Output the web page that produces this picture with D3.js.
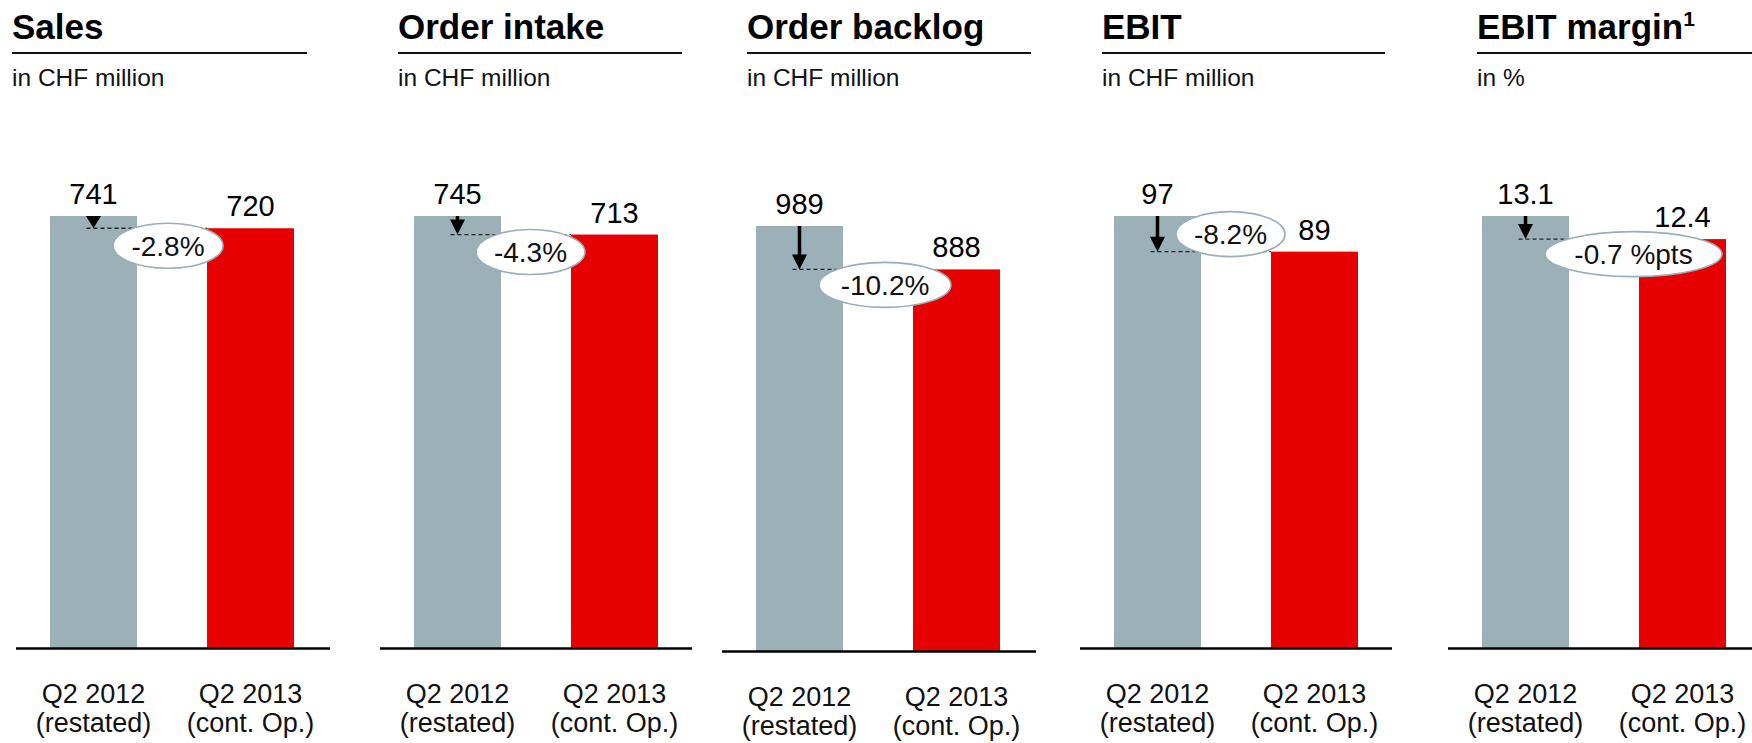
<!DOCTYPE html>
<html>
<head>
<meta charset="utf-8">
<script src="https://cdn.jsdelivr.net/npm/d3@7"></script>
<style>
  html, body { margin: 0; padding: 0; background: #fff; }
  svg { display: block; font-family: "Liberation Sans", Arial, Helvetica, sans-serif; }
</style>
</head>
<body>
<svg id="chart" width="1752" height="743"></svg>
<script>
// Data
const panelTitles = ["Sales", "Order intake", "Order backlog", "EBIT", "EBIT margin"];
const panelUnits = ["in CHF million", "in CHF million", "in CHF million", "in CHF million", "in %"];
const categories = ["Q2 2012", "Q2 2013"];
const categorySubs = ["(restated)", "(cont. Op.)"];
const values2012 = [741, 745, 989, 97, 13.1];
const values2013 = [720, 713, 888, 89, 12.4];
const valueFormats = ["d", "d", "d", "d", ".1f"];
const changeLabels = ["-2.8%", "-4.3%", "-10.2%", "-8.2%", "-0.7 %pts"];

// Layout (pixels)
const barLeft = [50, 414, 756, 1114, 1482];
const baseY = [648, 648, 651, 648, 648];
const plotH = [432, 432, 425, 432, 432];
const titleX = [12, 398, 747, 1102, 1477];
const ruleEnd = [307, 682, 1031, 1385, 1752];
const axisX = [[16, 330], [380, 692], [722, 1036], [1080, 1392], [1448, 1752]];
const bubbleDx = [118, 116.5, 129, 116.5, 151.5];
const bubbleDy = [17.5, 17.5, 15.5, -17.5, 15];
const bubbleRx = [55, 54.5, 66, 54.5, 88.5];

const gray = "#9cb0b8", red = "#e60000";

const svg = d3.select("#chart");

panelTitles.forEach((title, i) => {
    const g = svg.append("g");

    // title
    const t = g.append("text")
        .attr("x", titleX[i]).attr("y", 39)
        .attr("font-size", 35).attr("font-weight", "bold")
        .attr("fill", "#000")
        .text(title);
    if (i === 4) {
        t.append("tspan").attr("font-size", 21).attr("dy", -13).text("1");
    }
    g.append("line")
        .attr("x1", titleX[i]).attr("x2", ruleEnd[i])
        .attr("y1", 53).attr("y2", 53)
        .attr("stroke", "#111").attr("stroke-width", 2.2);
    g.append("text")
        .attr("x", titleX[i]).attr("y", 86)
        .attr("font-size", 24.5).attr("fill", "#111")
        .text(panelUnits[i]);

    // scales
    const x = d3.scaleBand()
        .domain(categories)
        .range([barLeft[i], barLeft[i] + 244])
        .paddingInner(0.446);
    const y = d3.scaleLinear()
        .domain([0, values2012[i]])
        .range([baseY[i], baseY[i] - plotH[i]]);

    const vals = [values2012[i], values2013[i]];
    const fmt = d3.format(valueFormats[i]);

    // bars
    g.selectAll("rect.bar")
        .data(vals)
        .join("rect")
        .attr("class", "bar")
        .attr("x", (d, j) => x(categories[j]))
        .attr("width", x.bandwidth())
        .attr("y", d => y(d))
        .attr("height", d => baseY[i] - y(d))
        .attr("fill", (d, j) => j === 0 ? gray : red);

    // axis baseline
    g.append("line")
        .attr("x1", axisX[i][0]).attr("x2", axisX[i][1])
        .attr("y1", baseY[i] + 0.5).attr("y2", baseY[i] + 0.5)
        .attr("stroke", "#000").attr("stroke-width", 2.5);

    // value labels
    g.selectAll("text.val")
        .data(vals)
        .join("text")
        .attr("class", "val")
        .attr("x", (d, j) => x(categories[j]) + x.bandwidth() / 2)
        .attr("y", d => y(d) - 12)
        .attr("text-anchor", "middle")
        .attr("font-size", 29)
        .attr("fill", "#000")
        .text(d => fmt(d));

    // category labels
    categories.forEach((c, j) => {
        const cx = x(c) + x.bandwidth() / 2;
        const lab = g.append("text")
            .attr("text-anchor", "middle")
            .attr("font-size", 27)
            .attr("fill", "#111");
        lab.append("tspan").attr("x", cx).attr("y", baseY[i] + 55).text(c);
        lab.append("tspan").attr("x", cx).attr("y", baseY[i] + 84).text(categorySubs[j]);
    });

    // change arrow + dashed reference line
    const ax = x(categories[0]) + x.bandwidth() / 2;
    const y1 = y(values2012[i]);
    const y2 = y(values2013[i]);
    const headH = Math.min(15, y2 - y1);
    const headW = 15;

    g.append("line")
        .attr("x1", ax - 7).attr("x2", x(categories[1]))
        .attr("y1", y2).attr("y2", y2)
        .attr("stroke", "#222").attr("stroke-width", 1.3)
        .attr("stroke-dasharray", "4,3");

    if (y2 - headH > y1) {
        g.append("line")
            .attr("x1", ax).attr("x2", ax)
            .attr("y1", y1).attr("y2", y2 - headH + 1)
            .attr("stroke", "#000").attr("stroke-width", 3.5);
    }
    g.append("path")
        .attr("d", `M${ax - headW / 2},${y2 - headH} L${ax + headW / 2},${y2 - headH} L${ax},${y2} Z`)
        .attr("fill", "#000");

    // change bubble
    const bx = barLeft[i] + bubbleDx[i];
    const by = y2 + bubbleDy[i];
    g.append("ellipse")
        .attr("cx", bx).attr("cy", by)
        .attr("rx", bubbleRx[i]).attr("ry", 22.5)
        .attr("fill", "#fff")
        .attr("stroke", "#98aeb8").attr("stroke-width", 1.6);
    g.append("text")
        .attr("x", bx).attr("y", by + 10)
        .attr("text-anchor", "middle")
        .attr("font-size", 28)
        .attr("fill", "#111")
        .text(changeLabels[i]);
});
</script>
</body>
</html>
